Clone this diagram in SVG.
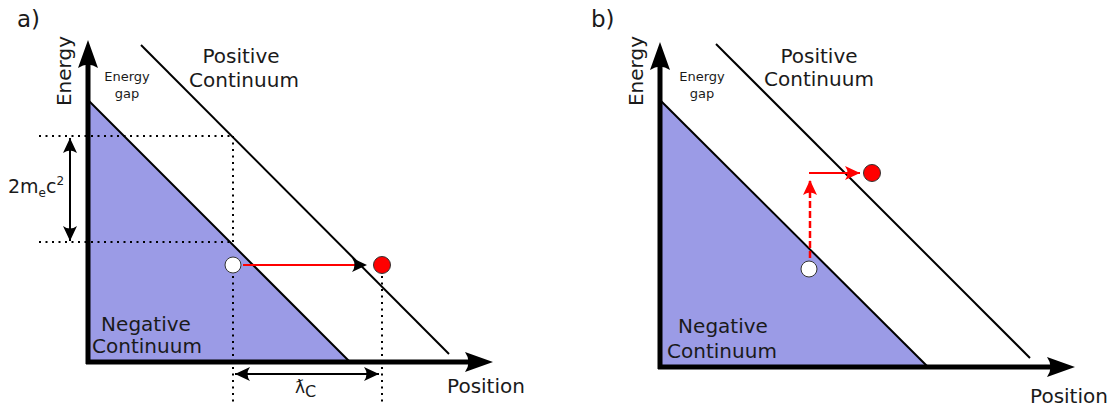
<svg xmlns="http://www.w3.org/2000/svg" width="1116" height="408" viewBox="0 0 1116 408">
<style>
text{font-family:"DejaVu Sans","Liberation Sans",sans-serif;fill:#1a1a1a}
.big{font-size:20px}
.sm{font-size:13px}
.lbl{font-size:23px}
.line{stroke:#000;stroke-width:2;fill:none}
.axis{stroke:#000;stroke-width:5;fill:none}
.dot{stroke:#000;stroke-width:2;stroke-dasharray:2,4.5;fill:none}
.fill{fill:#9b9be6;stroke:none}
.red{stroke:#f00;stroke-width:2;fill:none}
.dash{stroke:#f00;stroke-width:2.5;stroke-dasharray:7,3;fill:none}
</style>
<defs>
<marker id="ak" viewBox="-16 -8 18 16" markerWidth="18" markerHeight="16" refX="0" refY="0" orient="auto-start-reverse" markerUnits="userSpaceOnUse">
<path d="M0,0 L-15,-7 Q-10,0 -15,7 Z" fill="#000"/>
</marker>
<marker id="ar" viewBox="-16 -8 18 16" markerWidth="18" markerHeight="16" refX="0" refY="0" orient="auto" markerUnits="userSpaceOnUse">
<path d="M0,0 L-15,-7 Q-10,0 -15,7 Z" fill="#f00"/>
</marker>
</defs>

<g id="panel-a">
<text class="lbl" x="17" y="27">a)</text>
<g id="a-negative-continuum">
<polygon class="fill" points="88,100 88,362 350,362"/>
<line class="line" x1="88" y1="100" x2="350" y2="362"/>
<text class="big" x="146" y="331" text-anchor="middle">Negative</text>
<text class="big" x="147" y="353" text-anchor="middle">Continuum</text>
</g>
<g id="a-positive-continuum">
<line class="line" x1="141" y1="45" x2="449" y2="354"/>
<text class="big" x="241" y="63" text-anchor="middle">Positive</text>
<text class="big" x="244" y="87" text-anchor="middle">Continuum</text>
</g>
<g id="a-gap">
<text class="sm" x="127" y="81" text-anchor="middle">Energy</text>
<text class="sm" x="127" y="98" text-anchor="middle">gap</text>
</g>
<g id="a-axes">
<line class="axis" x1="88" y1="364" x2="88" y2="60"/>
<path d="M88,40 L98,68 Q88,61 78,68 Z" fill="#000"/>
<line class="axis" x1="86" y1="362" x2="472" y2="362"/>
<path d="M493,362 L465,352 Q472,362 465,372 Z" fill="#000"/>
<text class="big" transform="translate(71,71) rotate(-90)" text-anchor="middle">Energy</text>
<text class="big" x="486" y="393" text-anchor="middle">Position</text>
</g>
<g id="a-guides">
<line class="dot" x1="39" y1="136" x2="233" y2="136"/>
<line class="dot" x1="39" y1="242" x2="233" y2="242"/>
<line class="dot" x1="233" y1="136" x2="233" y2="242"/>
<line class="dot" x1="233" y1="276" x2="233" y2="402"/>
<line class="dot" x1="382" y1="276" x2="382" y2="402"/>
</g>
<g id="a-connectors">
<line class="line" x1="70" y1="138" x2="70" y2="241" marker-start="url(#ak)" marker-end="url(#ak)"/>
<line class="line" x1="235" y1="374" x2="379" y2="374" marker-start="url(#ak)" marker-end="url(#ak)"/>
<line class="red" x1="243" y1="265" x2="360" y2="265"/>
<path d="M367,265 L352,258 Q357,265 352,272 Z" fill="#000"/>
</g>
<text x="8" y="193" style="font-size:19px">2m<tspan style="font-size:12px" dy="4">e</tspan><tspan dy="-4">c</tspan><tspan style="font-size:12px" dy="-8">2</tspan></text>
<text x="295" y="393" style="font-size:17px">ƛ<tspan style="font-size:16px" dy="4">C</tspan></text>
<g id="a-hole"><circle cx="233" cy="265" r="8" fill="#fff" stroke="#333" stroke-width="1"/></g>
<g id="a-electron"><circle cx="382" cy="265" r="8.5" fill="#f00" stroke="#333" stroke-width="1"/></g>
</g>

<g id="panel-b">
<text class="lbl" x="591" y="27">b)</text>
<g id="b-negative-continuum">
<polygon class="fill" points="661,101 661,367 928,367"/>
<line class="line" x1="661" y1="101" x2="928" y2="367"/>
<text class="big" x="723" y="333" text-anchor="middle">Negative</text>
<text class="big" x="722" y="358" text-anchor="middle">Continuum</text>
</g>
<g id="b-positive-continuum">
<line class="line" x1="716" y1="44" x2="1030" y2="358"/>
<text class="big" x="819" y="63" text-anchor="middle">Positive</text>
<text class="big" x="819" y="86" text-anchor="middle">Continuum</text>
</g>
<g id="b-gap">
<text class="sm" x="702" y="81" text-anchor="middle">Energy</text>
<text class="sm" x="702" y="98" text-anchor="middle">gap</text>
</g>
<g id="b-axes">
<line class="axis" x1="660" y1="369" x2="660" y2="62"/>
<path d="M660,42 L670,70 Q660,63 650,70 Z" fill="#000"/>
<line class="axis" x1="658" y1="367" x2="1054" y2="367"/>
<path d="M1075,367 L1047,357 Q1054,367 1047,377 Z" fill="#000"/>
<text class="big" transform="translate(643,71) rotate(-90)" text-anchor="middle">Energy</text>
<text class="big" x="1069" y="403" text-anchor="middle">Position</text>
</g>
<g id="b-connectors">
<line class="dash" x1="810" y1="258" x2="810" y2="180" marker-end="url(#ar)"/>
<line class="red" x1="809" y1="173" x2="860" y2="173" marker-end="url(#ar)"/>
</g>
<g id="b-hole"><circle cx="809" cy="269" r="8" fill="#fff" stroke="#333" stroke-width="1"/></g>
<g id="b-electron"><circle cx="872" cy="173" r="8.5" fill="#f00" stroke="#333" stroke-width="1"/></g>
</g>
</svg>
